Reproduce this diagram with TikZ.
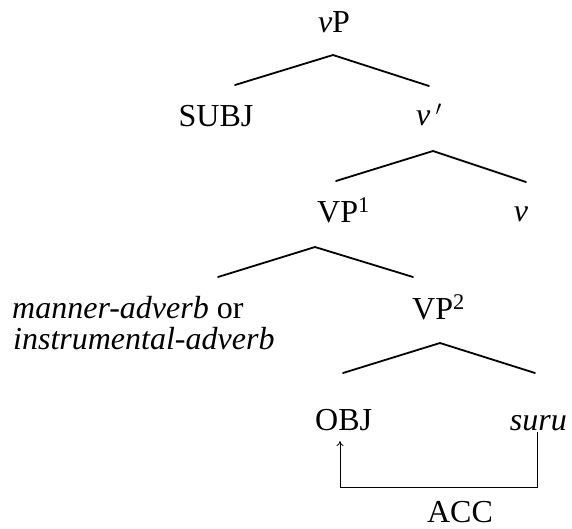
\documentclass[tikz,border=0pt]{standalone}
\usepackage{fontspec}
\setmainfont{Liberation Serif}
\usetikzlibrary{arrows.meta}
\begin{document}
\begin{tikzpicture}[x=1pt,y=-1pt,
  lbl/.style={inner sep=1pt, font=\fontsize{32}{32}\selectfont},
  branch/.style={line width=1.8pt, line cap=round, line join=round},
  accline/.style={line width=0.8pt, -{To[length=5pt,width=7pt]}}]
\useasboundingbox (0,0) rectangle (572,528);

% node labels (positioned by baseline)
\node[lbl, anchor=base] (vP) at (334,32) {\textit{v}P};
\node[lbl, anchor=base] (subj) at (216,126) {SUBJ};
\node[lbl, anchor=base] (vbar) at (429,125) {\textit{v}\,$'$};
\node[lbl, anchor=base west] (vp1) at (316,222) {VP\textsuperscript{1}};
\node[lbl, anchor=base] (vhead) at (521,221) {\textit{v}};
\node[lbl, anchor=base west] (advA) at (11,318) {\textit{manner-adverb} or};
\node[lbl, anchor=base west] (advB) at (12,349) {\textit{instrumental-adverb}};
\node[lbl, anchor=base west] (vp2) at (411,319) {VP\textsuperscript{2}};
\node[lbl, anchor=base west] (obj) at (314,430) {OBJ};
\node[lbl, anchor=base east] (suru) at (568,430) {\textit{suru}};
\node[lbl, anchor=base] (acc) at (460,522) {ACC};

% branch points
\coordinate (vPtop) at (333,55);
\coordinate (vPl) at (235,85);
\coordinate (vPr) at (429,86);
\coordinate (vbartop) at (433,151);
\coordinate (vbarl) at (336,181);
\coordinate (vbarr) at (526,182);
\coordinate (vpatop) at (315,247);
\coordinate (vpal) at (218,277);
\coordinate (vpar) at (413,277);
\coordinate (vpbtop) at (440,343);
\coordinate (vpbl) at (343,373);
\coordinate (vpbr) at (535,373);

\draw[branch] (vPl) -- (vPtop) -- (vPr);
\draw[branch] (vbarl) -- (vbartop) -- (vbarr);
\draw[branch] (vpal) -- (vpatop) -- (vpar);
\draw[branch] (vpbl) -- (vpbtop) -- (vpbr);

% case assignment from suru to OBJ
\coordinate (accR) at (537,487);
\coordinate (accL) at (340,487);
\coordinate (accTip) at (340,441);
\draw[accline] (suru.south -| accR) -- (accR) -- (accL) -- (accTip);
\end{tikzpicture}
\end{document}
